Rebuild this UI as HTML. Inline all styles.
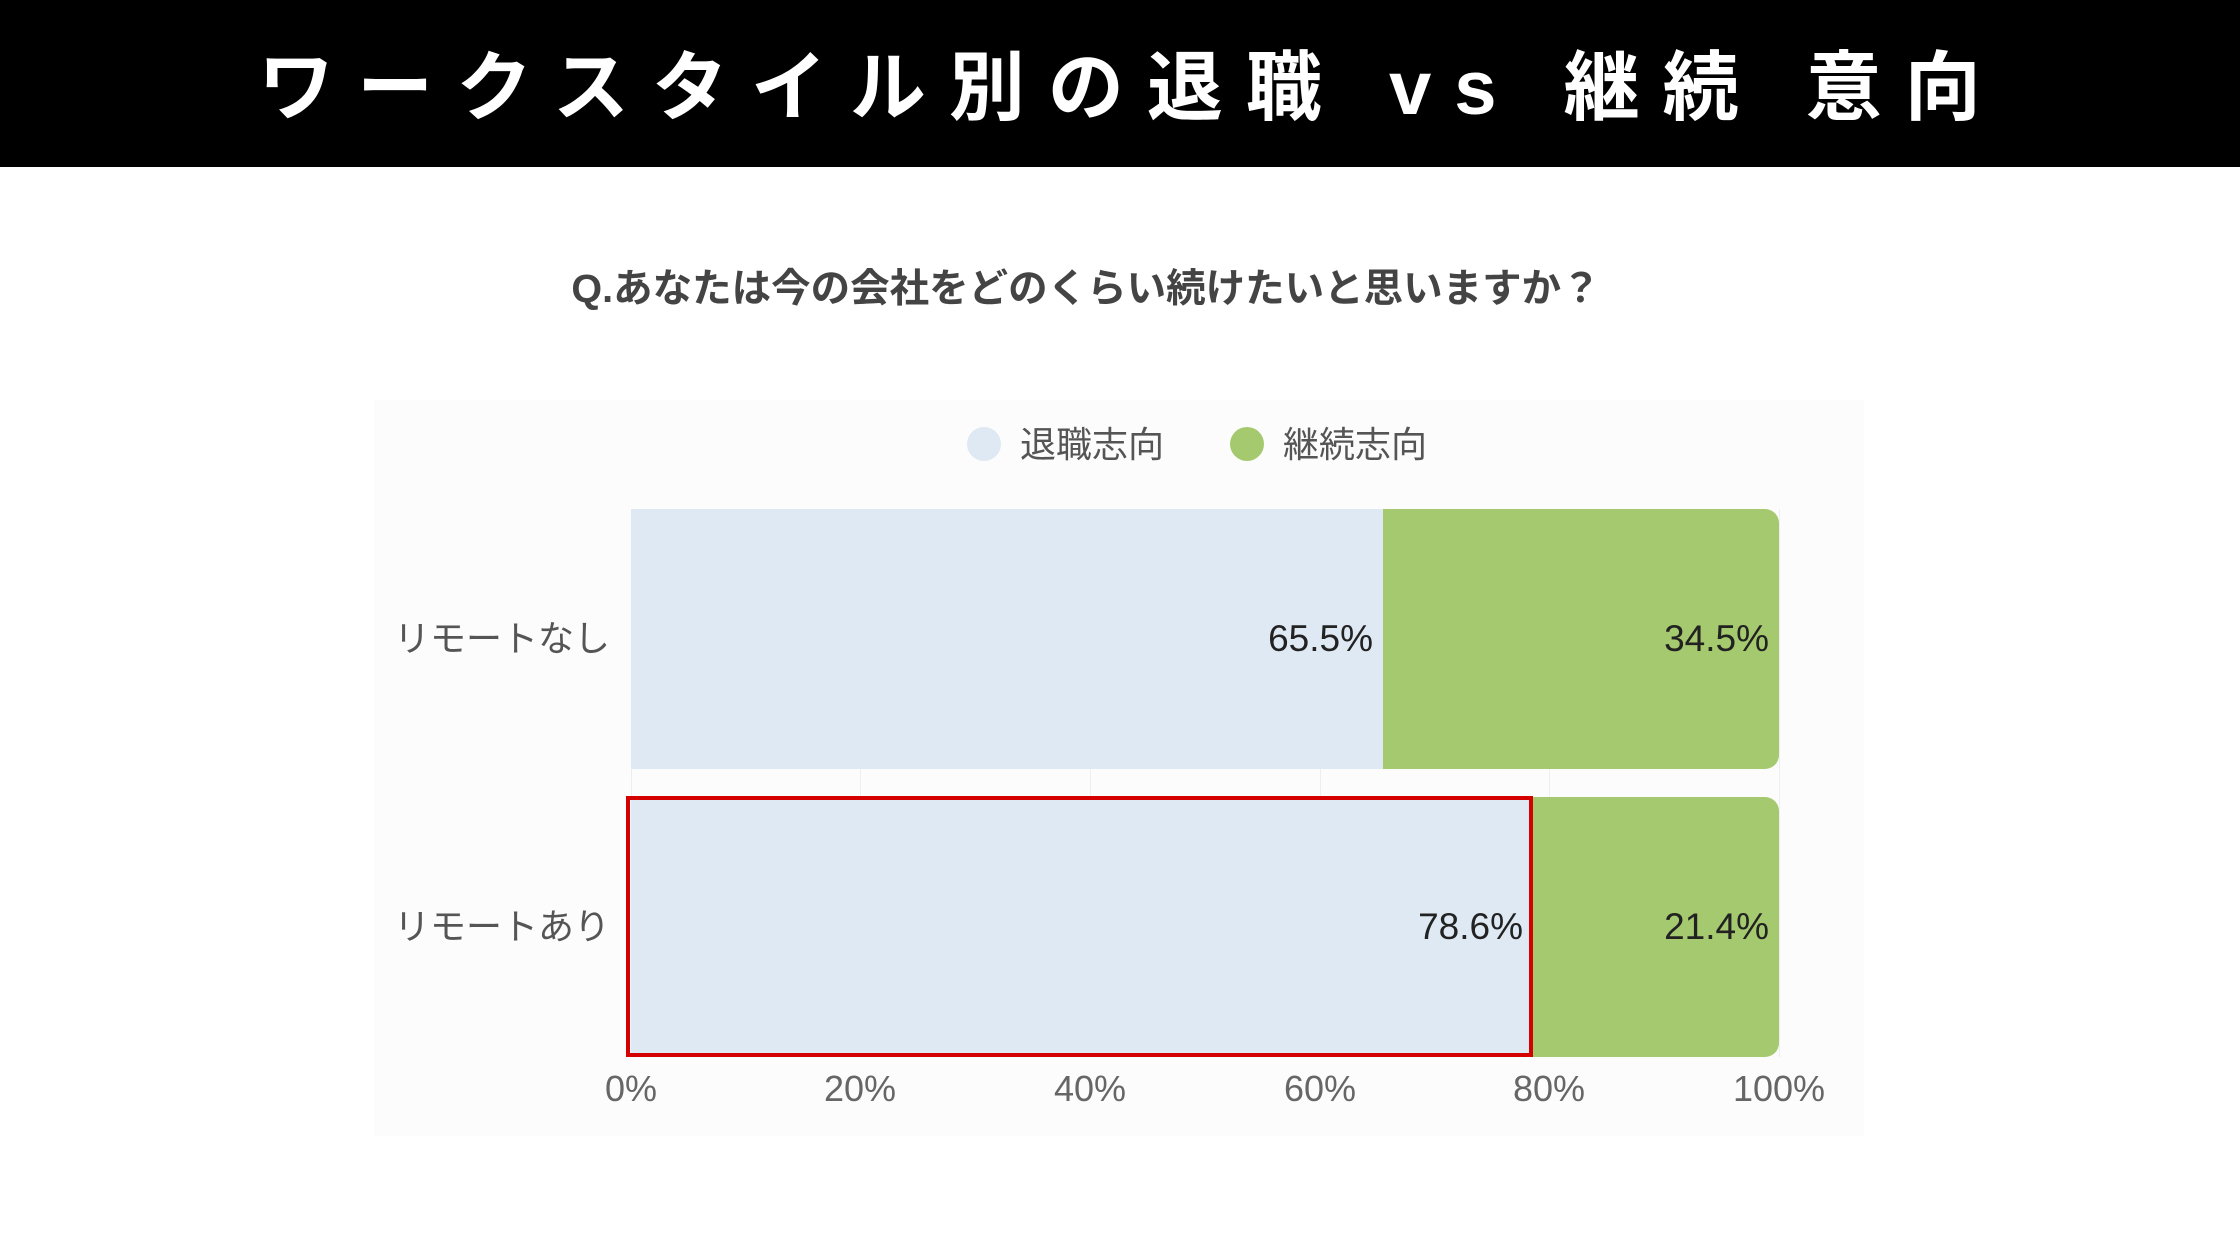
<!DOCTYPE html>
<html><head><meta charset="utf-8"><style>
body{margin:0;width:2240px;height:1260px;background:#fff;position:relative;overflow:hidden;font-family:"Liberation Sans","Noto Sans CJK JP",sans-serif}
.a{position:absolute}
</style></head><body>
<div class="a" style="left:0;top:0;width:2240px;height:167px;background:#000"></div>
<div class="a" style="left:11px;top:44px;width:2240px;text-align:center;color:#fff;font-weight:bold;font-size:76px;line-height:90px;letter-spacing:23px;white-space:nowrap">ワークスタイル別の退職 vs 継続 意向</div>
<div class="a" style="left:-34px;top:263px;width:2240px;text-align:center;color:#444;font-weight:bold;font-size:39.5px;line-height:52px">Q.あなたは今の会社をどのくらい続けたいと思いますか？</div>
<div class="a" style="left:374px;top:400px;width:1490px;height:736px;background:#fcfcfc"></div>
<div class="a" style="left:967px;top:427px;width:34px;height:34px;border-radius:50%;background:#dfe9f3"></div>
<div class="a" style="left:1020px;top:420px;font-size:36px;line-height:50px;color:#555">退職志向</div>
<div class="a" style="left:1230px;top:427px;width:34px;height:34px;border-radius:50%;background:#a5c96e"></div>
<div class="a" style="left:1283px;top:420px;font-size:36px;line-height:50px;color:#555">継続志向</div>
<div class="a" style="left:631px;top:509px;width:1px;height:548px;background:#eee"></div>
<div class="a" style="left:860px;top:509px;width:1px;height:548px;background:#eee"></div>
<div class="a" style="left:1090px;top:509px;width:1px;height:548px;background:#eee"></div>
<div class="a" style="left:1320px;top:509px;width:1px;height:548px;background:#eee"></div>
<div class="a" style="left:1549px;top:509px;width:1px;height:548px;background:#eee"></div>
<div class="a" style="left:1779px;top:509px;width:1px;height:548px;background:#eee"></div>
<div class="a" style="left:631px;top:509px;width:752px;height:260px;background:#dfe9f3"></div>
<div class="a" style="left:1383px;top:509px;width:396px;height:260px;background:#a5c96e;border-radius:0 14px 14px 0"></div>
<div class="a" style="left:631px;top:797px;width:902px;height:260px;background:#dfe9f3"></div>
<div class="a" style="left:1533px;top:797px;width:246px;height:260px;background:#a5c96e;border-radius:0 14px 14px 0"></div>
<div class="a" style="left:626px;top:796px;width:899px;height:253px;border:4px solid #d40000"></div>
<div class="a" style="left:300px;top:614px;width:310px;text-align:right;font-size:36px;line-height:50px;color:#555">リモートなし</div>
<div class="a" style="left:300px;top:902px;width:310px;text-align:right;font-size:36px;line-height:50px;color:#555">リモートあり</div>
<div class="a" style="left:1173px;top:614px;width:200px;text-align:right;font-size:37px;line-height:50px;color:#222">65.5%</div>
<div class="a" style="left:1569px;top:614px;width:200px;text-align:right;font-size:37px;line-height:50px;color:#222">34.5%</div>
<div class="a" style="left:1323px;top:902px;width:200px;text-align:right;font-size:37px;line-height:50px;color:#222">78.6%</div>
<div class="a" style="left:1569px;top:902px;width:200px;text-align:right;font-size:37px;line-height:50px;color:#222">21.4%</div>
<div class="a" style="left:531px;top:1065px;width:200px;text-align:center;font-size:36px;line-height:48px;color:#666">0%</div>
<div class="a" style="left:760px;top:1065px;width:200px;text-align:center;font-size:36px;line-height:48px;color:#666">20%</div>
<div class="a" style="left:990px;top:1065px;width:200px;text-align:center;font-size:36px;line-height:48px;color:#666">40%</div>
<div class="a" style="left:1220px;top:1065px;width:200px;text-align:center;font-size:36px;line-height:48px;color:#666">60%</div>
<div class="a" style="left:1449px;top:1065px;width:200px;text-align:center;font-size:36px;line-height:48px;color:#666">80%</div>
<div class="a" style="left:1679px;top:1065px;width:200px;text-align:center;font-size:36px;line-height:48px;color:#666">100%</div>
</body></html>
